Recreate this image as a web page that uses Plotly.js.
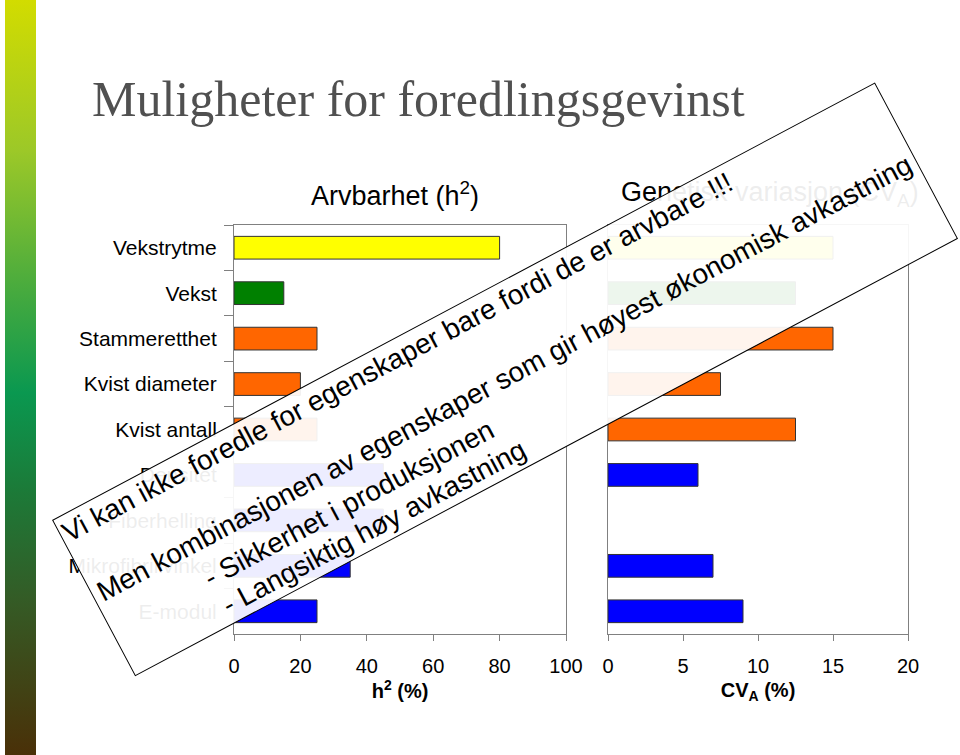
<!DOCTYPE html>
<html>
<head>
<meta charset="utf-8">
<script src="https://cdn.plot.ly/plotly-3.0.1.min.js"></script>
<style>html,body{margin:0;padding:0;background:#fff;}#chart{width:960px;height:755px;}</style>
</head>
<body>
<div id="chart"></div>
<script>
// ---- data ----
const categories = ['Vekstrytme','Vekst','Stammeretthet','Kvist diameter','Kvist antall','Densitet','Fiberhelling','Mikrofibrillvinkel','E-modul'];
const h2Values = [80, 15, 25, 20, 25, 45, 45, 35, 25];
const cvaValues = [15, 12.5, 15, 7.5, 12.5, 6, null, 7, 9];
const barColors = ['#FFFF00','#008000','#FF6600','#FF6600','#FF6600','#0000FF','#0000FF','#0000FF','#0000FF'];
const h2Ticks = [0, 20, 40, 60, 80, 100];
const cvaTicks = [0, 5, 10, 15, 20];
const mainTitle = 'Muligheter for foredlingsgevinst';
const h2Title = 'Arvbarhet (h<sup>2</sup>)';
const cvaTitle = 'Genetisk variasjon (CV<sub>A</sub>)';
const h2AxisTitle = '<b>h<sup>2</sup> (%)</b>';
const cvaAxisTitle = '<b>CV<sub>A</sub> (%)</b>';
const overlayLines = [
  'Vi kan ikke foredle for egenskaper bare fordi de er arvbare !!!',
  'Men kombinasjonen av egenskaper som gir høyest økonomisk avkastning',
  '- Sikkerhet i produksjonen',
  '- Langsiktig høy avkastning'
];

// ---- layout helpers (pixel -> paper) ----
const W = 960, H = 755;
const px = x => x / W;
const py = y => 1 - y / H;
const box = {x0: 51.7, y0: 520, angle: 28, w: 932, h: 177};
const a = box.angle * Math.PI / 180;
const ud = [Math.cos(a), -Math.sin(a)];
const vd = [Math.sin(a), Math.cos(a)];
function uv(u, v) { return [box.x0 + u*ud[0] + v*vd[0], box.y0 + u*ud[1] + v*vd[1]]; }
const lineStartU = [4, 7, 108, 112];
const lineBaseV = [28, 97, 135, 167];
const LW = 925;

const font = 'Liberation Sans, Arial, sans-serif';
const grey = '#808080';

const traces = [
  {type: 'bar', orientation: 'h', y: categories, x: h2Values, xaxis: 'x', yaxis: 'y',
   marker: {color: barColors, line: {color: '#333333', width: 1}}, hoverinfo: 'none'},
  {type: 'bar', orientation: 'h', y: categories, x: cvaValues, xaxis: 'x2', yaxis: 'y2',
   marker: {color: barColors, line: {color: '#333333', width: 1}}, hoverinfo: 'none'}
];

const gradSvg = "<svg xmlns='http://www.w3.org/2000/svg' width='31' height='755' preserveAspectRatio='none'>" +
  "<defs><linearGradient id='g' x1='0' y1='0' x2='0' y2='1'>" +
  "<stop offset='0' stop-color='#d2dc00'/><stop offset='0.2' stop-color='#9cc828'/>" +
  "<stop offset='0.4' stop-color='#40a840'/><stop offset='0.52' stop-color='#0a9850'/>" +
  "<stop offset='0.65' stop-color='#1c7a38'/><stop offset='0.8' stop-color='#355a25'/>" +
  "<stop offset='1' stop-color='#4a3008'/></linearGradient></defs>" +
  "<rect width='31' height='755' fill='url(#g)'/></svg>";

const yDomain = [py(634), py(225)];
const axisCommon = {
  showline: true, linecolor: grey, linewidth: 1, mirror: true,
  showgrid: false, zeroline: false, fixedrange: true
};

const annotations = [
  {text: h2Title, x: px(395), y: py(194), xref: 'paper', yref: 'paper', showarrow: false,
   xanchor: 'center', yanchor: 'middle', font: {family: font, size: 27, color: '#000'}},
  {text: cvaTitle, x: px(770), y: py(194), xref: 'paper', yref: 'paper', showarrow: false,
   xanchor: 'center', yanchor: 'middle', font: {family: font, size: 27, color: '#000'}}
];
const bc = uv(box.w/2, box.h/2);
annotations.push({text: ' ', x: px(bc[0]), y: py(bc[1]), xref: 'paper', yref: 'paper', showarrow: false,
  xanchor: 'center', yanchor: 'middle', width: box.w - 2, height: box.h - 2, borderpad: 0, borderwidth: 1,
  bordercolor: '#000', bgcolor: 'rgba(255,255,255,0.93)', textangle: -box.angle});
overlayLines.forEach((t, i) => {
  const c = uv(lineStartU[i] + LW/2, lineBaseV[i] - 9.7);
  annotations.push({text: t, x: px(c[0]), y: py(c[1]), xref: 'paper', yref: 'paper', showarrow: false,
    xanchor: 'center', yanchor: 'middle', width: LW, align: 'left', borderpad: 0, borderwidth: 0,
    textangle: -box.angle, font: {family: font, size: 28, color: '#000'}});
});

const layout = {
  width: W, height: H,
  margin: {l: 0, r: 0, t: 0, b: 0},
  paper_bgcolor: '#fff', plot_bgcolor: '#fff',
  showlegend: false, bargap: 0.5,
  title: {text: mainTitle, x: px(92), xanchor: 'left', xref: 'paper', y: py(98), yanchor: 'middle',
    font: {family: 'Liberation Serif, Times New Roman, serif', size: 50, color: '#505050'}},
  xaxis: Object.assign({}, axisCommon, {domain: [px(234), px(566)], anchor: 'y', range: [0, 100],
    tickmode: 'array', tickvals: h2Ticks, ticks: 'outside', ticklen: 6, tickcolor: grey,
    ticklabelstandoff: 8, tickfont: {family: font, size: 20, color: '#000'},
    title: {text: h2AxisTitle, standoff: 6, font: {family: font, size: 20, color: '#000'}}}),
  yaxis: Object.assign({}, axisCommon, {domain: yDomain, anchor: 'x', type: 'category',
    categoryorder: 'array', categoryarray: categories, autorange: 'reversed',
    ticks: 'outside', tickson: 'boundaries', ticklen: 9, tickcolor: grey, ticklabelstandoff: 12,
    tickfont: {family: font, size: 21, color: '#000'}}),
  xaxis2: Object.assign({}, axisCommon, {domain: [px(608), px(908)], anchor: 'y2', range: [0, 20],
    tickmode: 'array', tickvals: cvaTicks, ticks: 'outside', ticklen: 6, tickcolor: grey,
    ticklabelstandoff: 8, tickfont: {family: font, size: 20, color: '#000'},
    title: {text: cvaAxisTitle, standoff: 6, font: {family: font, size: 20, color: '#000'}}}),
  yaxis2: Object.assign({}, axisCommon, {domain: yDomain, anchor: 'x2', type: 'category',
    categoryorder: 'array', categoryarray: categories, autorange: 'reversed',
    showticklabels: false, ticks: ''}),
  images: [{source: 'data:image/svg+xml;charset=utf-8,' + encodeURIComponent(gradSvg),
    xref: 'paper', yref: 'paper', x: px(5), y: 1, sizex: px(31) , sizey: 1,
    sizing: 'stretch', xanchor: 'left', yanchor: 'top', layer: 'below'}],
  annotations: annotations
};

Plotly.newPlot('chart', traces, layout, {displayModeBar: false, staticPlot: true});
</script>
</body>
</html>
